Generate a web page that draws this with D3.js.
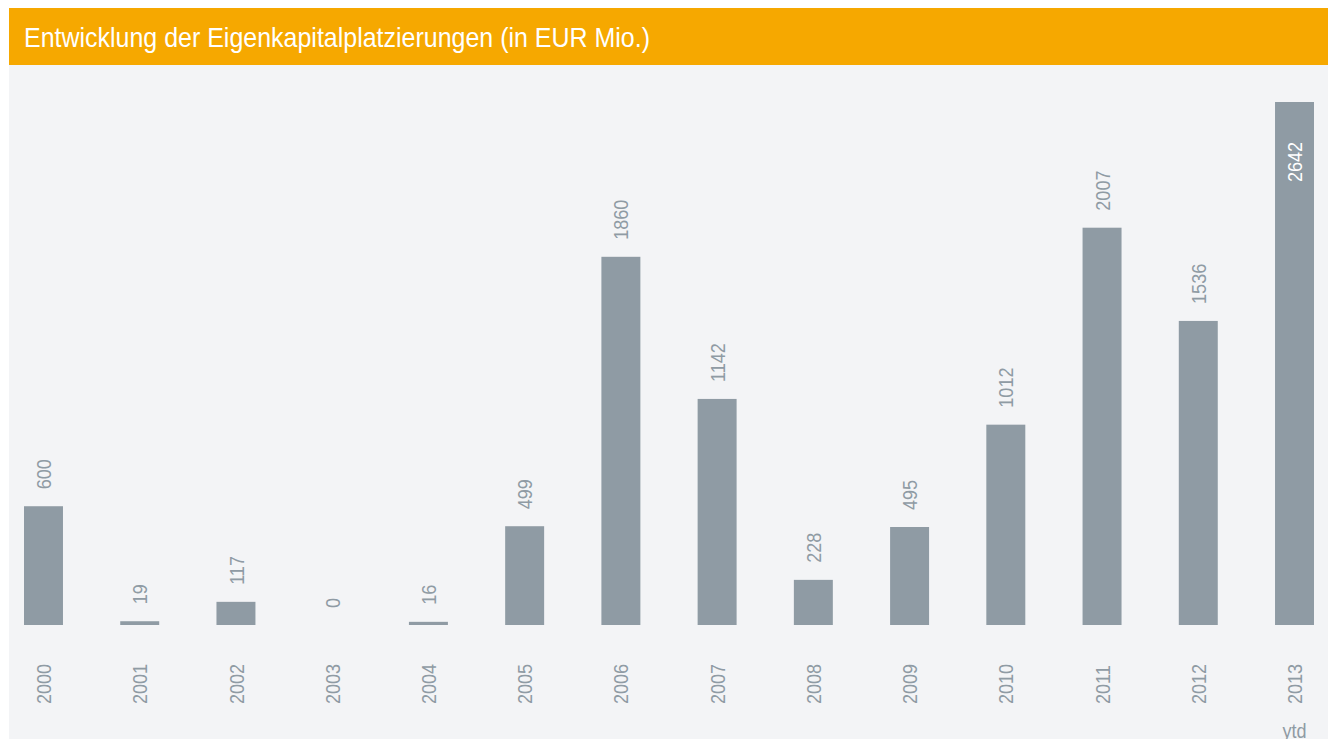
<!DOCTYPE html>
<html lang="de">
<head>
    <meta charset="UTF-8">
    <title>Entwicklung der Eigenkapitalplatzierungen</title>
    <script src="https://d3js.org/d3.v7.min.js"></script>
    <style>
        body {
            margin: 0;
            background: #fff;
            font-family: 'Liberation Sans', Arial, sans-serif;
        }
        svg { display: block; }
    </style>
</head>
<body>
    <svg id="chart" width="1328" height="739"></svg>

    <script>
        // data
        const years = ["2000", "2001", "2002", "2003", "2004", "2005", "2006",
                       "2007", "2008", "2009", "2010", "2011", "2012", "2013"];
        const values = [600, 19, 117, 0, 16, 499, 1860, 1142, 228, 495, 1012, 2007, 1536, 2642];
        const title = "Entwicklung der Eigenkapitalplatzierungen (in EUR Mio.)";
        const footNote = "ytd";

        const width = 1328, height = 739;
        const barColor = "#8f9ba4";
        const squeeze = 0.86;   // no condensed font around, so narrow the glyphs by hand
        const svg = d3.select("#chart");

        // header + panel
        svg.append("rect")
            .attr("x", 9).attr("y", 65)
            .attr("width", width - 9).attr("height", height - 65)
            .attr("fill", "#f3f4f6");
        svg.append("rect")
            .attr("x", 9).attr("y", 8)
            .attr("width", width - 9).attr("height", 57)
            .attr("fill", "#f6a800");
        svg.append("text")
            .attr("x", 24).attr("y", 47)
            .attr("fill", "#fff")
            .attr("textLength", 626)
            .attr("lengthAdjust", "spacingAndGlyphs")
            .style("font-size", "28px")
            .text(title);

        const x = d3.scaleBand()
            .domain(years)
            .range([24, 1314])
            .paddingInner(0.595)
            .paddingOuter(0);

        const y = d3.scaleLinear()
            .domain([0, d3.max(values)])
            .range([625, 102]);

        const data = years.map((yr, i) => ({ year: yr, value: values[i] }));
        const maxVal = d3.max(values);

        svg.selectAll(".bar")
            .data(data)
            .join("rect")
            .attr("class", "bar")
            .attr("x", d => x(d.year))
            .attr("y", d => y(d.value))
            .attr("width", x.bandwidth())
            .attr("height", d => y(0) - y(d.value))
            .attr("fill", barColor);

        const cx = d => x(d.year) + x.bandwidth() / 2;

        // value labels (the biggest one sits inside the bar)
        svg.selectAll(".val")
            .data(data)
            .join("text")
            .attr("class", "val")
            .attr("transform", d => {
                const ty = d.value === maxVal ? y(d.value) + 80 : y(d.value) - 17;
                return `translate(${cx(d)},${ty}) rotate(-90) scale(${squeeze},1)`;
            })
            .attr("dy", "0.36em")
            .attr("fill", d => d.value === maxVal ? "#fff" : barColor)
            .style("font-size", "21px")
            .text(d => d.value);

        // year labels
        svg.selectAll(".yr")
            .data(data)
            .join("text")
            .attr("class", "yr")
            .attr("transform", d => `translate(${cx(d)},704) rotate(-90) scale(${squeeze},1)`)
            .attr("dy", "0.36em")
            .attr("fill", barColor)
            .style("font-size", "21px")
            .text(d => d.year);

        svg.append("text")
            .attr("transform", `translate(${cx(data[data.length - 1])},738) scale(${squeeze},1)`)
            .attr("text-anchor", "middle")
            .attr("fill", barColor)
            .style("font-size", "21px")
            .text(footNote);
    </script>
</body>
</html>
